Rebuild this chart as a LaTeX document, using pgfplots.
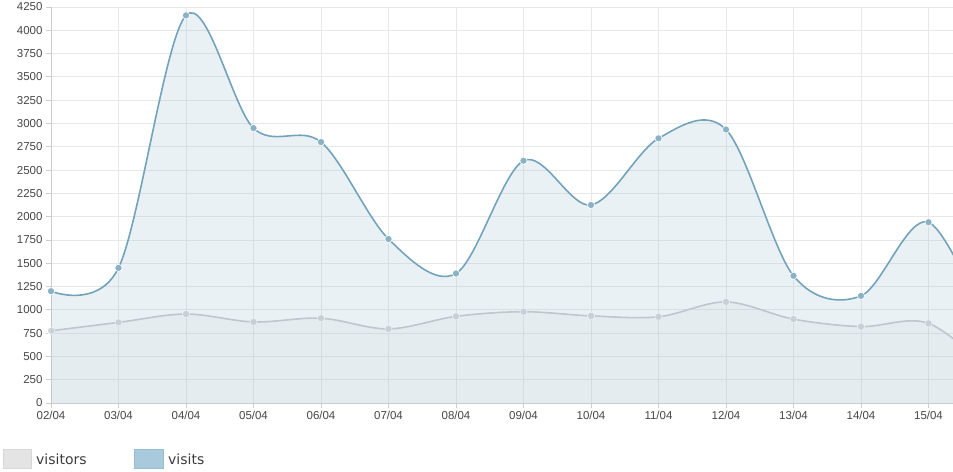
\documentclass[border=0pt]{standalone}
\usepackage{pgfplots}
\pgfplotsset{compat=1.18}
\usepackage{fontspec}
\setmainfont{Liberation Sans}
\newfontfamily\legfont{DejaVu Sans}
\definecolor{visitsfill}{RGB}{151,187,205}
\definecolor{visitsline}{RGB}{115,163,187}
\definecolor{visitspt}{RGB}{138,178,198}
\definecolor{visitorsfill}{RGB}{220,220,220}
\definecolor{visitorsline}{RGB}{200,202,206}
\definecolor{visitorspt}{RGB}{212,214,218}
\definecolor{gridgray}{RGB}{232,232,232}
\definecolor{axisgray}{RGB}{205,205,205}
\definecolor{labelgray}{RGB}{70,70,70}
\pgfplotstableread{
x visitors visits
0 775 1200
1 865 1450
2 955 4160
3 870 2950
4 910 2800
5 795 1760
6 930 1390
7 980 2600
8 935 2125
9 925 2840
10 1085 2935
11 900 1365
12 820 1150
13 855 1940
14 300 600
}\datatable
\begin{document}
\begin{tikzpicture}
\begin{axis}[
 scale only axis, width=902bp, height=396bp,
 xmin=0, xmax=13.363, ymin=0, ymax=4250,
 axis lines*=left,
 axis line style={draw=axisgray, line width=0.8bp},
 xtick={0,...,13},
 xticklabels={02/04,03/04,04/04,05/04,06/04,07/04,08/04,09/04,10/04,11/04,12/04,13/04,14/04,15/04},
 ytick={0,250,...,4250},
 grid=major, grid style={draw=gridgray, line width=0.8bp},
 tick align=outside, major tick length=5bp, tick style={draw=axisgray, line width=0.8bp},
 ticklabel style={font=\fontsize{11.5bp}{13bp}\selectfont, text=labelgray},
 /pgf/number format/assume math mode=true,
 /pgf/number format/1000 sep={},
 clip mode=individual,
]
\coordinate (bl) at (rel axis cs:0,0);
\coordinate (tr) at (rel axis cs:1,1);
\addplot[draw=none, fill=visitorsfill, fill opacity=0.2, smooth, tension=0.55] table[x=x,y=visitors]{\datatable} \closedcycle;
\addplot[draw=visitorsline, line width=1.6bp, smooth, tension=0.55, mark=*, mark size=3.6bp, mark options={fill=visitorspt, draw=white, line width=0.6bp}, mark indices={1,...,14}] table[x=x,y=visitors]{\datatable};
\addplot[draw=none, fill=visitsfill, fill opacity=0.2, smooth, tension=0.55] table[x=x,y=visits]{\datatable} \closedcycle;
\addplot[draw=visitsline, line width=1.6bp, smooth, tension=0.55, mark=*, mark size=3.6bp, mark options={fill=visitspt, draw=white, line width=0.6bp}, mark indices={1,...,14}] table[x=x,y=visits]{\datatable};
\end{axis}
\fill[fill={rgb,255:red,228;green,228;blue,228}, draw={rgb,255:red,215;green,215;blue,215}] ([xshift=-48bp,yshift=-46bp]bl) rectangle ([xshift=-20bp,yshift=-65bp]bl);
\node[anchor=west, inner sep=0pt, text={rgb,255:red,60;green,60;blue,60}, font=\legfont\fontsize{14bp}{16bp}\selectfont] at ([xshift=-15bp,yshift=-56bp]bl) {visitors};
\fill[fill={rgb,255:red,168;green,202;blue,220}, draw={rgb,255:red,150;green,188;blue,208}] ([xshift=83bp,yshift=-46bp]bl) rectangle ([xshift=112bp,yshift=-65bp]bl);
\node[anchor=west, inner sep=0pt, text={rgb,255:red,60;green,60;blue,60}, font=\legfont\fontsize{14bp}{16bp}\selectfont] at ([xshift=117bp,yshift=-56bp]bl) {visits};
\pgfresetboundingbox
\path[use as bounding box] ([xshift=-51bp,yshift=-69bp]bl) rectangle ([yshift=7bp]tr);
\end{tikzpicture}
\end{document}
